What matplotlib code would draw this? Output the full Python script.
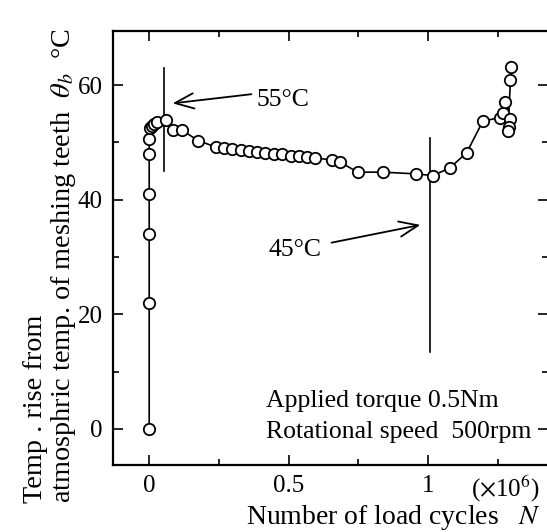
import matplotlib
matplotlib.use("Agg")
import matplotlib.pyplot as plt
from matplotlib.ticker import MultipleLocator

plt.rcParams["font.family"] = ["Liberation Serif", "DejaVu Serif"]
plt.rcParams["mathtext.fontset"] = "stix"

# Load cycles (x10^6) and temperature rise of the meshing teeth (deg C)
cycles = [0.0, 0.0, 0.0, 0.0, 0.0, 0.0, 0.003, 0.009, 0.016, 0.029, 0.060,
          0.086, 0.118, 0.176, 0.238, 0.268, 0.297, 0.328, 0.357, 0.387,
          0.417, 0.447, 0.477, 0.507, 0.537, 0.566, 0.596, 0.656, 0.686,
          0.748, 0.838, 0.957, 1.017, 1.078, 1.139, 1.197, 1.257, 1.271,
          1.278, 1.295, 1.290, 1.287, 1.296, 1.299]
temp_rise = [0.0, 22.0, 34.0, 41.0, 48.0, 50.6, 52.5, 52.9, 53.2, 53.5, 53.9,
             52.2, 52.1, 50.3, 49.2, 49.1, 48.9, 48.7, 48.5, 48.3,
             48.2, 48.0, 47.9, 47.7, 47.6, 47.4, 47.3, 46.9, 46.5,
             44.8, 44.8, 44.5, 44.2, 45.5, 48.2, 53.7, 54.3, 55.2,
             57.1, 54.1, 52.7, 51.9, 60.9, 63.2]

# Marker lines for the peak and the minimum
peak_x, peak_span = 0.053, (45.0, 63.0)
low_x, low_span = 1.006, (13.4, 50.8)

x_ticks = [0, 0.5, 1]
x_tick_labels = ["0", "0.5", "1"]
y_ticks = [0, 20, 40, 60]

fig = plt.figure(figsize=(5.47, 5.32), dpi=100)
ax = fig.add_axes([0.206, 0.126, 0.796, 0.8157])

ax.plot(cycles, temp_rise, color="black", lw=1.2, marker="o", ms=8.2,
        mfc="white", mec="black", mew=1.3, zorder=3)

ax.plot([peak_x, peak_x], peak_span, color="black", lw=1.2)
ax.plot([low_x, low_x], low_span, color="black", lw=1.2)

arrow = dict(arrowstyle="->,head_length=1.35,head_width=0.55", color="black",
             lw=1.3, shrinkA=0, shrinkB=0)
ax.annotate("", xy=(0.084, 56.8), xytext=(0.367, 58.4), arrowprops=arrow)
ax.annotate("", xy=(0.973, 35.6), xytext=(0.654, 32.5), arrowprops=arrow)

fs = 18.5
ax.text(0.385, 57.3, "55°C", fontsize=fs, ha="left", va="center")
ax.text(0.429, 31.3, "45°C", fontsize=fs, ha="left", va="center")

ax.text(0.418, 3.9, "Applied torque 0.5Nm", fontsize=fs, ha="left",
        va="baseline")
ax.text(0.418, -1.6, "Rotational speed  500rpm", fontsize=fs, ha="left",
        va="baseline")

ax.set_xlim(-0.131, 1.431)
ax.set_ylim(-6.28, 69.42)

ax.set_xticks(x_ticks)
ax.set_xticklabels(x_tick_labels)
ax.set_yticks(y_ticks)
ax.xaxis.set_minor_locator(MultipleLocator(0.25))
ax.yaxis.set_minor_locator(MultipleLocator(10))

ax.tick_params(which="both", direction="in", top=True, right=True,
               labelsize=18, width=1.2)
ax.tick_params(which="major", length=7.5, pad=7)
ax.tick_params(which="minor", length=4.5)
for s in ax.spines.values():
    s.set_linewidth(1.6)

ax.text(1.277, -0.02, r"($\times$10$^6$)", transform=ax.get_xaxis_transform(),
        fontsize=18, ha="center", va="top")

fs_label = 20
fig.text(0.72, 0.028, "Number of load cycles   $N$", fontsize=fs_label,
         ha="center", va="center")

fig.text(0.092, 0.055,
         "Temp . rise from\natmosphric temp. of meshing teeth  $\\theta_b$  °C",
         fontsize=20.3, rotation=90, ha="center", va="bottom",
         multialignment="left", linespacing=1.05)

fig.savefig("out.png", dpi=100)
